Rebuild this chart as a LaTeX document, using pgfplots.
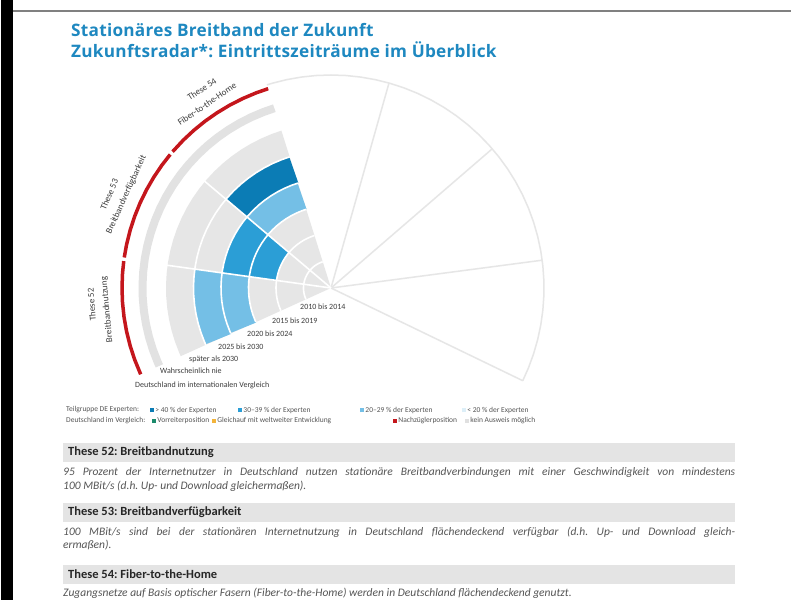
\documentclass[border=0pt]{standalone}
\usepackage{pgfplots}
\pgfplotsset{compat=1.18}
\usepackage{fontspec}
\setmainfont{Carlito}
\newfontfamily\titlefont[LetterSpace=1.5]{Open Sans}
\definecolor{titleblue}{HTML}{1E88C0}
\definecolor{fangray}{HTML}{E6E6E6}
\definecolor{bandgray}{HTML}{E2E2E2}
\definecolor{lightblue}{HTML}{74BFE6}
\definecolor{midblue}{HTML}{2B9ED6}
\definecolor{darkblue}{HTML}{0B7CB5}
\definecolor{redarc}{HTML}{C4161C}
\definecolor{outline}{HTML}{E6E6E6}
\definecolor{bargray}{HTML}{E4E4E4}
\definecolor{textgray}{HTML}{3C3C3C}
\definecolor{paragray}{HTML}{555555}
\definecolor{vgreen}{HTML}{1B8A6B}
\definecolor{vorange}{HTML}{F3B43B}
\definecolor{vlight}{HTML}{DDEFF8}
\definecolor{vgray}{HTML}{E0E0E0}
\newcommand{\sq}[1]{\textcolor{#1}{\rule{4pt}{4pt}}\,}
\frenchspacing
\begin{document}
\begin{tikzpicture}
\path[use as bounding box, fill=white] (0,0) rectangle (791pt,600pt);
% ---------------- radar (polar data, origin at the radar centre) -------------
\begin{axis}[at={(0pt,0pt)}, anchor=south west, x=1pt, y=1pt,
  xmin=-331, xmax=460, ymin=-312, ymax=288, hide axis, clip=false,
  every axis plot/.append style={data cs=polar, no marks}]
% empty sectors (outline)
\addplot[outline, line width=1.5pt] coordinates {(-25.8,213) (-22,213) (-18,213) (-14,213) (-10,213) (-6,213) (-2,213) (2,213) (6,213) (10,213) (14,213) (18,213) (22,213) (26,213) (30,213) (34,213) (38,213) (42,213) (46,213) (50,213) (54,213) (58,213) (62,213) (66,213) (70,213) (74,213) (78,213) (82,213) (86,213) (90,213) (94,213) (98,213) (102,213) (106,213) (107.5,213)};
\addplot[outline, line width=1.5pt] coordinates {(74.2,0) (74.2,213)};
\addplot[outline, line width=1.5pt] coordinates {(40.8,0) (40.8,213)};
\addplot[outline, line width=1.5pt] coordinates {(7.5,0) (7.5,213)};
\addplot[outline, line width=1.5pt] coordinates {(-25.8,0) (-25.8,213)};
% grey fan of the three theses
\addplot[draw=none, fill=fangray] coordinates {(107.5,0) (107.5,165) (111,165) (115,165) (119,165) (123,165) (127,165) (131,165) (135,165) (139,165) (143,165) (147,165) (151,165) (155,165) (159,165) (163,165) (167,165) (171,165) (175,165) (179,165) (183,165) (187,165) (191,165) (195,165) (199,165) (203,165) (204.4,165) (204.4,0)} -- cycle;
% coloured blocks: These 52
\addplot[lightblue, line width=27.5pt] coordinates {(172.1,96.25) (176,96.25) (180,96.25) (184,96.25) (188,96.25) (192,96.25) (196,96.25) (200,96.25) (204.4,96.25)};
\addplot[lightblue, line width=27.5pt] coordinates {(172.1,123.75) (176,123.75) (180,123.75) (184,123.75) (188,123.75) (192,123.75) (196,123.75) (200,123.75) (204.4,123.75)};
% These 53
\addplot[midblue, line width=27.5pt] coordinates {(139.8,68.75) (144,68.75) (148,68.75) (152,68.75) (156,68.75) (160,68.75) (164,68.75) (168,68.75) (172.1,68.75)};
\addplot[midblue, line width=27.5pt] coordinates {(139.8,96.25) (144,96.25) (148,96.25) (152,96.25) (156,96.25) (160,96.25) (164,96.25) (168,96.25) (172.1,96.25)};
% These 54
\addplot[lightblue, line width=27.5pt] coordinates {(107.5,96.25) (111,96.25) (115,96.25) (119,96.25) (123,96.25) (127,96.25) (131,96.25) (135,96.25) (139.8,96.25)};
\addplot[darkblue, line width=27.5pt] coordinates {(107.5,123.75) (111,123.75) (115,123.75) (119,123.75) (123,123.75) (127,123.75) (131,123.75) (135,123.75) (139.8,123.75)};
% white ring separators
\addplot[white, line width=1.6pt] coordinates {(107.5,27.5) (111,27.5) (115,27.5) (119,27.5) (123,27.5) (127,27.5) (131,27.5) (135,27.5) (139,27.5) (143,27.5) (147,27.5) (151,27.5) (155,27.5) (159,27.5) (163,27.5) (167,27.5) (171,27.5) (175,27.5) (179,27.5) (183,27.5) (187,27.5) (191,27.5) (195,27.5) (199,27.5) (203,27.5) (204.4,27.5)};
\addplot[white, line width=1.6pt] coordinates {(107.5,55) (111,55) (115,55) (119,55) (123,55) (127,55) (131,55) (135,55) (139,55) (143,55) (147,55) (151,55) (155,55) (159,55) (163,55) (167,55) (171,55) (175,55) (179,55) (183,55) (187,55) (191,55) (195,55) (199,55) (203,55) (204.4,55)};
\addplot[white, line width=1.6pt] coordinates {(107.5,82.5) (111,82.5) (115,82.5) (119,82.5) (123,82.5) (127,82.5) (131,82.5) (135,82.5) (139,82.5) (143,82.5) (147,82.5) (151,82.5) (155,82.5) (159,82.5) (163,82.5) (167,82.5) (171,82.5) (175,82.5) (179,82.5) (183,82.5) (187,82.5) (191,82.5) (195,82.5) (199,82.5) (203,82.5) (204.4,82.5)};
\addplot[white, line width=1.6pt] coordinates {(107.5,110) (111,110) (115,110) (119,110) (123,110) (127,110) (131,110) (135,110) (139,110) (143,110) (147,110) (151,110) (155,110) (159,110) (163,110) (167,110) (171,110) (175,110) (179,110) (183,110) (187,110) (191,110) (195,110) (199,110) (203,110) (204.4,110)};
\addplot[white, line width=1.6pt] coordinates {(107.5,137.5) (111,137.5) (115,137.5) (119,137.5) (123,137.5) (127,137.5) (131,137.5) (135,137.5) (139,137.5) (143,137.5) (147,137.5) (151,137.5) (155,137.5) (159,137.5) (163,137.5) (167,137.5) (171,137.5) (175,137.5) (179,137.5) (183,137.5) (187,137.5) (191,137.5) (195,137.5) (199,137.5) (203,137.5) (204.4,137.5)};
% white spokes between the theses
\addplot[white, line width=1.6pt] coordinates {(139.8,0) (139.8,167)};
\addplot[white, line width=1.6pt] coordinates {(172.1,0) (172.1,167)};
% grey band
\addplot[bandgray, line width=8pt] coordinates {(107.5,188.5) (111,188.5) (115,188.5) (119,188.5) (123,188.5) (127,188.5) (131,188.5) (135,188.5) (139,188.5) (143,188.5) (147,188.5) (151,188.5) (155,188.5) (159,188.5) (163,188.5) (167,188.5) (171,188.5) (175,188.5) (179,188.5) (183,188.5) (187,188.5) (191,188.5) (195,188.5) (199,188.5) (203,188.5) (204.4,188.5)};
% red arcs (Nachzuegler)
\addplot[redarc, line width=3.5pt] coordinates {(107.5,209) (111,209) (115,209) (119,209) (123,209) (127,209) (131,209) (135,209) (139.3,209)};
\addplot[redarc, line width=3.5pt] coordinates {(140.3,209) (144,209) (148,209) (152,209) (156,209) (160,209) (164,209) (168,209) (171.6,209)};
\addplot[redarc, line width=3.5pt] coordinates {(172.6,209) (176,209) (180,209) (184,209) (188,209) (192,209) (196,209) (200,209) (204.4,209)};
\end{axis}
% ---------------- texts (image pixel coordinates) -------------
\begin{axis}[at={(0pt,0pt)}, anchor=south west, x=1pt, y=1pt,
  xmin=0, xmax=791, ymin=0, ymax=600, y dir=reverse, hide axis, clip=false]
\fill[black] (axis cs:0.8,0) rectangle (axis cs:13,600);
\fill[gray] (axis cs:13,10) rectangle (axis cs:791,11.5);
\node[anchor=base west, inner sep=0, text=titleblue, font=\titlefont\bfseries\fontsize{17.2}{19}\selectfont] at (axis cs:71,36) {Stationäres Breitband der Zukunft};
\node[anchor=base west, inner sep=0, text=titleblue, font=\titlefont\bfseries\fontsize{17.2}{19}\selectfont] at (axis cs:71,57) {Zukunftsradar*: Eintrittszeiträume im Überblick};
% thesis names around the radar
\begin{scope}[every node/.style={inner sep=0, text=textgray, font=\fontsize{9}{10}\selectfont}]
\node[rotate=33] at (axis cs:201.9,89.2) {These 54};
\node[rotate=34] at (axis cs:206.9,104) {Fiber-to-the-Home};
\node[rotate=67] at (axis cs:109.2,194.6) {These 53};
\node[rotate=65.5] at (axis cs:126.3,194.7) {Breitbandverfügbarkeit};
\node[rotate=94] at (axis cs:91.6,304.7) {These 52};
\node[rotate=95.5] at (axis cs:107,309.6) {Breitbandnutzung};
\end{scope}
% ring labels
\begin{scope}[every node/.style={anchor=west, inner sep=0, text=textgray, font=\fontsize{8}{9}\selectfont}]
\node at (axis cs:300,307) {2010 bis 2014};
\node at (axis cs:272,321) {2015 bis 2019};
\node at (axis cs:247,334) {2020 bis 2024};
\node at (axis cs:218,347) {2025 bis 2030};
\node at (axis cs:189,359) {später als 2030};
\node at (axis cs:160,371) {Wahrscheinlich nie};
\node at (axis cs:135,385) {Deutschland im internationalen Vergleich};
\end{scope}
% legend
\begin{scope}[every node/.style={anchor=west, inner sep=0, text=paragray, font=\fontsize{7.5}{8}\selectfont}]
\node at (axis cs:66,410) {Teilgruppe DE Experten:};
\node at (axis cs:150,410) {\sq{darkblue}> 40 \% der Experten};
\node at (axis cs:238,410) {\sq{midblue}30–39 \% der Experten};
\node at (axis cs:360,410) {\sq{lightblue}20–29 \% der Experten};
\node at (axis cs:462,410) {\sq{vlight}< 20 \% der Experten};
\node at (axis cs:66,421) {Deutschland im Vergleich:};
\node at (axis cs:152,421) {\sq{vgreen}Vorreiterposition};
\node at (axis cs:212,421) {\sq{vorange}Gleichauf mit weltweiter Entwicklung};
\node at (axis cs:393,421) {\sq{redarc}Nachzüglerposition};
\node at (axis cs:465,421) {\sq{vgray}kein Ausweis möglich};
\end{scope}
% thesis boxes
\begin{scope}[every node/.style={anchor=west, inner sep=0}]
\node[fill=bargray, minimum width=672pt, minimum height=19pt] at (axis cs:63,452) {};
\node[font=\bfseries\fontsize{12.5}{14}\selectfont, text=black!85] at (axis cs:68,452) {These 52: Breitbandnutzung};
\node[font=\itshape\fontsize{11.5}{14}\selectfont, text=paragray] at (axis cs:63,472) {\makebox[672pt][s]{95 Prozent der Internetnutzer in Deutschland nutzen stationäre Breitbandverbindungen mit einer Geschwindigkeit von mindestens}};
\node[font=\itshape\fontsize{11.5}{14}\selectfont, text=paragray] at (axis cs:63,486) {100 MBit/s (d.h. Up- und Download gleichermaßen).};
\node[fill=bargray, minimum width=672pt, minimum height=19pt] at (axis cs:63,512) {};
\node[font=\bfseries\fontsize{12.5}{14}\selectfont, text=black!85] at (axis cs:68,512) {These 53: Breitbandverfügbarkeit};
\node[font=\itshape\fontsize{11.5}{14}\selectfont, text=paragray] at (axis cs:63,532) {\makebox[672pt][s]{100 MBit/s sind bei der stationären Internetnutzung in Deutschland flächendeckend verfügbar (d.h. Up- und Download gleich-}};
\node[font=\itshape\fontsize{11.5}{14}\selectfont, text=paragray] at (axis cs:63,545) {ermaßen).};
\node[fill=bargray, minimum width=672pt, minimum height=19pt] at (axis cs:63,574) {};
\node[font=\bfseries\fontsize{12.5}{14}\selectfont, text=black!85] at (axis cs:68,574) {These 54: Fiber-to-the-Home};
\node[font=\itshape\fontsize{11.5}{14}\selectfont, text=paragray] at (axis cs:63,593) {Zugangsnetze auf Basis optischer Fasern (Fiber-to-the-Home) werden in Deutschland flächendeckend genutzt.};
\end{scope}
\end{axis}
\end{tikzpicture}
\end{document}
